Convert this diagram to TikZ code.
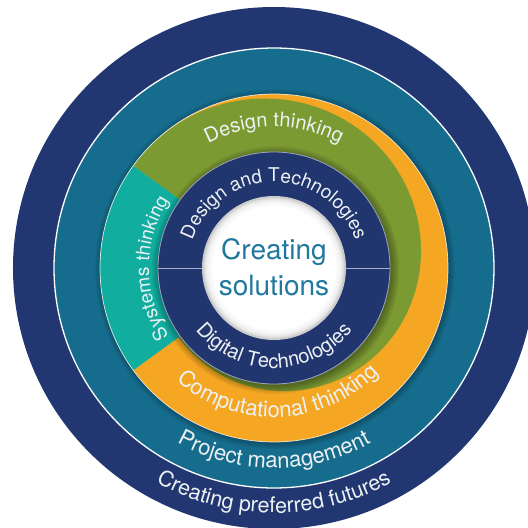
\documentclass[tikz,border=0pt]{standalone}
\usepackage{fontspec}
\setmainfont{TeX Gyre Heros}
\usepackage{tikz}
\usetikzlibrary{decorations.text}

\definecolor{outernavy}{RGB}{34,55,114}
\definecolor{projteal}{RGB}{22,108,141}
\definecolor{systurq}{RGB}{17,174,160}
\definecolor{dtgreen}{RGB}{124,154,50}
\definecolor{ctorange}{RGB}{245,167,35}
\definecolor{innernavy}{RGB}{33,53,111}
\definecolor{labeltext}{RGB}{236,241,243}
\definecolor{centretext}{RGB}{32,120,158}

\tikzstyle{edge line}=[draw=white, line width=1.3pt]
\tikzstyle{shadow ring}=[fill=black, opacity=0.04]
\tikzstyle{centre word}=[anchor=base, inner sep=0pt, text=centretext
%,font=\sffamily
,font=\fontsize{28}{28}\selectfont
]

% label along an arc: start angle, end angle, radius, size, text
\newcommand{\arclabel}[5]{%
  \path[decorate, decoration={text along path, text align=center,
    text={|\fontsize{#4}{#4}\selectfont\color{labeltext}|#5}}]
    (#1:#3) arc[start angle=#1, end angle=#2, radius=#3];}

\begin{document}
\begin{tikzpicture}[x=1pt,y=1pt]
    \useasboundingbox (-274,-260) rectangle (254,268);
    \fill[white] (-274,-260) rectangle (254,268);

    % First the two outer rings
    \fill[outernavy] (0,0) circle (261);
    \fill[projteal] (0,0) circle (220);
    \draw[edge line] (0,0) circle (220);

    % Soft shadow round the thinking ring
    \foreach \i in {1,...,7}
        \fill[shadow ring] (1,-1) circle ({173+\i});

    % Then the thinking ring: orange below, green on top, systems wedge
    \fill[ctorange] (0,0) circle (174);
    \fill[dtgreen] (0,0) -- plot[domain=0:288, samples=120, variable=\p]
        ({144-\p}:{174-28*(1-cos(0.625*\p))}) -- cycle;
    \fill[systurq] (0,0) -- (144:174) arc[start angle=144, end angle=216, radius=174] -- cycle;
    \draw[edge line, line width=0.7pt, draw opacity=0.8] (0,0) circle (174);

    % Shadow round the subject ring
    \foreach \i in {1,...,9}
        \fill[shadow ring] (1.5,-2) circle ({115+\i});

    % Subject ring and the centre disc
    \fill[innernavy] (0,0) circle (116);
    \draw[white!55!innernavy, line width=0.8pt] (0,0) circle (116);
    \fill[black!20] (0,0) circle (72);
    \foreach \i in {1,...,8}
        \fill[white, opacity=0.3] (0,0) circle ({71-\i});
    \fill[white] (0,0) circle (62);
    \draw[white!60!innernavy, line width=0.8pt] (-116,0) -- (-72,0) (72,0) -- (116,0);

    % Labels
    \node[centre word] (creating) at (0,9) {Creating};
    \node[centre word] (solutions) at (0,-27) {solutions};
    \arclabel{175}{5}{86}{19}{Design and Technologies}
    \arclabel{195}{345}{100}{20}{Digital Technologies}
    \arclabel{150}{30}{141}{20}{Design thinking}
    \arclabel{240}{120}{125}{19}{Systems thinking}
    \arclabel{195}{349}{149}{22}{Computational thinking}
    \arclabel{215}{325}{200}{22}{Project management}
    \arclabel{215}{325}{245}{21.5}{Creating preferred futures}
\end{tikzpicture}
\end{document}
